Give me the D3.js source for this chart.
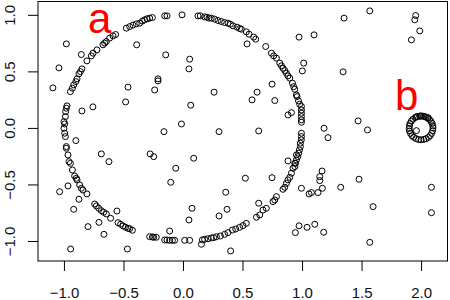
<!DOCTYPE html>
<html><head><meta charset="utf-8">
<script src="https://cdn.jsdelivr.net/npm/d3@7"></script>
<style>body{margin:0;background:#fff}svg{display:block}</style>
</head><body><svg id="c" width="450" height="300"></svg>
<script>
// ---- data ----
const xTicks = [-1.0, -0.5, 0.0, 0.5, 1.0, 1.5, 2.0];
const yTicks = [-1.0, -0.5, 0.0, 0.5, 1.0];
const xLim = [-1.218, 2.222];
const yLim = [-1.177, 1.118];

// points lying on the big circle (a)
const arcX = [0.995,0.995,0.995,0.995,0.995,0.995,0.995,0.995,0.994,0.986,0.986,0.978,0.972,0.964,0.953,0.945,0.94,
 0.98,0.97,0.958,0.953,0.939,0.93,0.919,0.897,0.882,0.869,0.855,0.84,0.827,0.813,0.785,0.762,0.743,0.695,0.611,0.594,0.555,0.532,0.49,0.476,0.454,0.42,0.398,0.378,0.35,0.322,0.294,0.266,0.238,0.218,0.202,0.182,0.146,0.126,-0.008,-0.134,-0.154,-0.257,-0.28,-0.302,-0.322,-0.341,-0.364,-0.392,-0.42,-0.448,-0.476,-0.566,-0.588,-0.616,-0.644,-0.658,-0.672,-0.723,-0.756,-0.77,-0.807,-0.849,-0.862,-0.874,-0.89,-0.90,-0.918,-0.929,-0.946,-0.975,-0.98,-0.986,-0.988,-1.0,-0.994,-1.0,-0.994,-0.988,-0.98,-0.98,-0.966,-0.958,-0.946,-0.929,-0.91,-0.896,-0.89,-0.868,-0.854,-0.84,-0.807,-0.742,-0.728,-0.708,-0.686,-0.666,-0.644,-0.608,-0.546,-0.524,-0.504,-0.482,-0.462,-0.448,-0.425,-0.28,-0.257,-0.246,-0.224,-0.154,-0.134,-0.112,-0.089,-0.07,0.014,0.056,0.163,0.182,0.21,0.238,0.258,0.281,0.314,0.35,0.378,0.415,0.443,0.476,0.504,0.532,0.617,0.645,0.672,0.70,0.756,0.771,0.785,0.84,0.855,0.869,0.882,0.897,0.911,0.924,0.939,0.953];
const arcY = [0.189,0.159,0.13,0.10,0.071,0.05,-0.047,-0.077,-0.106,-0.135,-0.165,-0.195,-0.224,-0.254,-0.283,-0.312,-0.342,
 0.21,0.24,0.277,0.292,0.342,0.365,0.396,0.44,0.46,0.484,0.507,0.528,0.549,0.573,0.617,0.637,0.661,0.72,0.785,0.803,0.829,0.85,0.873,0.879,0.891,0.903,0.917,0.926,0.932,0.941,0.95,0.962,0.971,0.971,0.979,0.982,0.991,0.991,1.0,0.991,0.991,0.976,0.971,0.965,0.956,0.945,0.926,0.92,0.909,0.896,0.882,0.826,0.814,0.794,0.764,0.75,0.735,0.69,0.661,0.637,0.593,0.522,0.498,0.478,0.434,0.41,0.38,0.351,0.321,0.195,0.174,0.144,0.10,0.056,0.035,-0.003,-0.047,-0.077,-0.165,-0.18,-0.239,-0.298,-0.313,-0.372,-0.425,-0.445,-0.46,-0.504,-0.534,-0.549,-0.584,-0.673,-0.69,-0.711,-0.732,-0.746,-0.761,-0.799,-0.838,-0.852,-0.867,-0.879,-0.888,-0.891,-0.905,-0.962,-0.965,-0.967,-0.967,-0.991,-0.991,-0.994,-0.994,-0.994,-0.994,-0.994,-0.99,-0.985,-0.98,-0.973,-0.97,-0.962,-0.956,-0.941,-0.926,-0.903,-0.894,-0.879,-0.864,-0.844,-0.79,-0.77,-0.726,-0.711,-0.652,-0.637,-0.608,-0.543,-0.525,-0.49,-0.46,-0.437,-0.401,-0.357,-0.313,-0.239];

// points lying on the small ring (b)
const ringX = [2.100,2.099,2.093,2.084,2.071,2.057,2.042,2.030,2.021,2.004,1.995,1.988,1.969,1.960,1.950,1.932,1.918,1.907,1.902,1.900,1.903,1.911,1.923,1.938,1.958,1.979,2.000,2.023,2.042,2.062,2.077,2.089,2.097,2.060];
const ringY = [0.000,0.018,0.039,0.057,0.074,0.086,0.095,0.100,0.103,0.105,0.105,0.104,0.100,0.098,0.091,0.077,0.060,0.039,0.018,-0.004,-0.027,-0.048,-0.068,-0.083,-0.095,-0.103,-0.105,-0.102,-0.095,-0.083,-0.068,-0.048,-0.024,0.090];

// scattered background points
const noiseX = [-0.98,-0.854,-1.042,-1.093,-0.462,-0.482,-0.757,-0.849,-0.90,-0.389,
 0.975,0.538,-0.145,0.056,0.05,-0.21,-0.21,-0.238,0.261,0.622,0.58,0.771,0.748,1.003,1.014,0.065,0.882,0.911,-0.013,-0.16,0.303,0.636,
 1.569,1.353,1.955,1.947,1.989,1.919,1.101,1.345,1.185,1.218,1.471,1.55,1.961,
 1.168,1.149,1.149,1.171,1.134,1.079,1.059,0.995,1.325,1.479,1.597,2.087,2.087,1.107,1.042,0.975,0.944,1.182,1.569,
 -0.246,-0.276,0.09,-0.061,-0.103,0.524,0.748,0.882,0.359,0.076,0.37,0.05,0.303,0.636,-0.112,0.155,0.40,
 -0.686,-0.622,-1.036,-0.966,-0.874,-0.918,-0.555,-0.706,-0.798,-0.664,-0.944,-0.467];
const noiseY = [0.743,0.649,0.531,0.354,0.361,0.23,0.186,0.15,-0.112,0.735,
 0.803,0.743,0.646,0.608,0.522,0.434,0.416,0.336,0.316,0.316,0.248,0.242,0.387,0.504,0.573,0.201,0.115,0.135,0.035,-0.033,-0.033,-0.027,
 1.035,0.971,0.994,0.956,0.858,0.779,0.823,0.496,-0.003,-0.086,0.062,-0.018,-0.024,
 -0.381,-0.431,-0.466,-0.534,-0.572,-0.572,-0.584,-0.534,-0.525,-0.454,-0.696,-0.525,-0.75,-0.852,-0.879,-0.866,-0.926,-0.923,-1.012,
 -0.254,-0.23,-0.268,-0.357,-0.481,-0.445,-0.44,-0.292,-0.569,-0.711,-0.72,-0.814,-0.779,-0.666,-0.912,-1.029,-1.088,
 -0.23,-0.298,-0.564,-0.513,-0.631,-0.72,-0.735,-0.835,-0.873,-0.941,-1.071,-1.071];

const labels = [{text:"a", x:-0.70, y:0.84}, {text:"b", x:1.88, y:0.16}];

// ---- drawing ----
const svg = d3.select("#c");
const L = 38, R = 447.5, T = 1.5, B = 261;
const x = d3.scaleLinear().domain(xLim).range([L, R]);
const y = d3.scaleLinear().domain(yLim).range([B, T]);
const font = "'Liberation Sans', Arial, sans-serif";

const pts = [];
arcX.forEach((v,i)=>pts.push([v, arcY[i]]));
ringX.forEach((v,i)=>pts.push([v, ringY[i]]));
noiseX.forEach((v,i)=>pts.push([v, noiseY[i]]));

svg.append("g").selectAll("circle").data(pts).join("circle")
  .attr("cx", d=>x(d[0])).attr("cy", d=>y(d[1])).attr("r", 3)
  .attr("fill", "none").attr("stroke", "#000").attr("stroke-width", 1);

// box
svg.append("rect").attr("x", L).attr("y", T).attr("width", R-L).attr("height", B-T)
  .attr("fill", "none").attr("stroke", "#000").attr("stroke-width", 1);

// x axis
const xa = svg.append("g").attr("transform", `translate(0,${B})`)
  .call(d3.axisBottom(x).tickValues(xTicks).tickFormat(d3.format(".1f")).tickSize(10).tickPadding(16));
xa.select(".domain").remove();
xa.selectAll("line").attr("stroke", "#000");
xa.selectAll("text").attr("font-family", font).attr("font-size", 15).attr("fill", "#111");

// y axis
const ya = svg.append("g").attr("transform", `translate(${L},0)`)
  .call(d3.axisLeft(y).tickValues(yTicks).tickFormat(d3.format(".1f")).tickSize(10));
ya.select(".domain").remove();
ya.selectAll("line").attr("stroke", "#000");
ya.selectAll("text").attr("font-family", font).attr("font-size", 15).attr("fill", "#111")
  .attr("x", null).attr("dy", null)
  .attr("text-anchor", "middle")
  .attr("transform", "translate(-23,0) rotate(-90)");

// red letters
svg.append("g").selectAll("text").data(labels).join("text")
  .attr("x", d=>x(d.x)).attr("y", d=>y(d.y))
  .attr("text-anchor", "middle").attr("font-family", font).attr("font-size", 42)
  .attr("fill", "#ff0000").text(d=>d.text);
</script></body></html>
